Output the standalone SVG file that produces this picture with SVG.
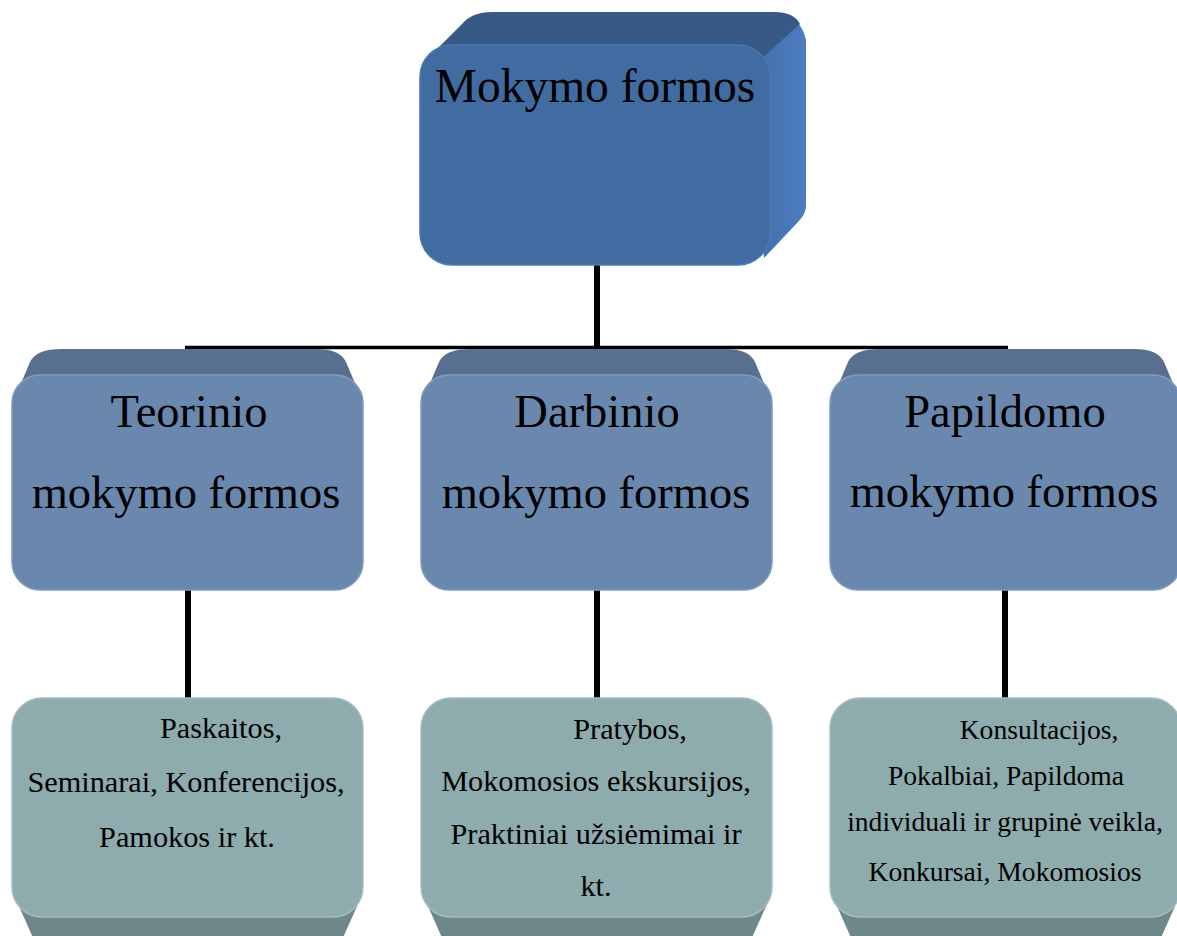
<svg xmlns="http://www.w3.org/2000/svg" width="1177" height="936" viewBox="0 0 1177 936">
<style>
text{font-family:"Liberation Serif","Times New Roman",serif;fill:#000;text-anchor:middle}
.t1{font-size:47.5px}
.t2{font-size:46.5px}
.t3{font-size:30.3px}
.t4{font-size:27.6px}
.conn{stroke:#000;fill:none}
.midTop{fill:#586f8f}
.midFront{fill:#6a88ae;stroke:#7f9cc0;stroke-width:1.5}
.botBottom{fill:#6e8789}
.botFront{fill:#8eabad;stroke:#a3bec0;stroke-width:1.5}
</style>
<defs>
<linearGradient id="side" x1="0" y1="0" x2="1" y2="0">
<stop offset="0" stop-color="#3f6aa3"/>
<stop offset="1" stop-color="#4c7dc0"/>
</linearGradient>
</defs>
<rect width="1177" height="936" fill="#fff"/>
<g id="connectors">
<line class="conn" x1="597" y1="262" x2="597" y2="350" stroke-width="6"/>
<line class="conn" x1="185" y1="347.5" x2="1008" y2="347.5" stroke-width="3.5"/>
<line class="conn" x1="188" y1="588" x2="188" y2="700" stroke-width="6"/>
<line class="conn" x1="597" y1="588" x2="597" y2="700" stroke-width="6"/>
<line class="conn" x1="1005" y1="588" x2="1005" y2="700" stroke-width="6"/>
</g>
<g id="n-root">
<path d="M740 50 L776 14 Q800 14 806 40 L806 206 Q806 214 798 222 L764 258 Z" fill="url(#side)"/>
<path d="M424 62 L462 24 Q472 12 492 12 L774 12 Q794 12 800 24 L762 58 Z" fill="#365a85"/>
<rect x="420" y="45" width="350" height="220" rx="32" fill="#416ca2" stroke="#4a78b0" stroke-width="1.5"/>
<text class="t1" x="595" y="102">Mokymo formos</text>
</g>
<g id="n-teor">
<path d="M14 400 L30 362 Q36 349 62 349 L316 349 Q340 349 346 362 L362 400 Z" class="midTop"/>
<rect x="12" y="375" width="351" height="215" rx="28" class="midFront"/>
<text class="t2" x="189" y="427">Teorinio</text>
<text class="t2" x="186" y="508">mokymo formos</text>
</g>
<g id="n-darb">
<path d="M423 400 L439 362 Q445 349 471 349 L725 349 Q749 349 755 362 L771 400 Z" class="midTop"/>
<rect x="421" y="375" width="351" height="215" rx="28" class="midFront"/>
<text class="t2" x="597" y="427">Darbinio</text>
<text class="t2" x="596" y="508">mokymo formos</text>
</g>
<g id="n-papild">
<path d="M832 400 L848 362 Q854 349 880 349 L1134 349 Q1158 349 1164 362 L1180 400 Z" class="midTop"/>
<rect x="830" y="375" width="351" height="215" rx="28" class="midFront"/>
<text class="t2" x="1005" y="427">Papildomo</text>
<text class="t2" x="1004" y="507">mokymo formos</text>
</g>
<g id="n-teor-list">
<path d="M14 895 L34 940 L342 940 L362 895 Z" class="botBottom"/>
<rect x="12" y="698" width="351" height="219" rx="30" class="botFront"/>
<text class="t3" x="221" y="738">Paskaitos,</text>
<text class="t3" x="186" y="792">Seminarai, Konferencijos,</text>
<text class="t3" x="187" y="847">Pamokos ir kt.</text>
</g>
<g id="n-darb-list">
<path d="M423 895 L443 940 L751 940 L771 895 Z" class="botBottom"/>
<rect x="421" y="698" width="351" height="219" rx="30" class="botFront"/>
<text class="t3" x="630" y="739">Pratybos,</text>
<text class="t3" x="596" y="791">Mokomosios ekskursijos,</text>
<text class="t3" x="596" y="844">Praktiniai užsiėmimai ir</text>
<text class="t3" x="596" y="896">kt.</text>
</g>
<g id="n-papild-list">
<path d="M832 895 L852 940 L1160 940 L1180 895 Z" class="botBottom"/>
<rect x="830" y="698" width="351" height="219" rx="30" class="botFront"/>
<text class="t4" x="1039" y="739">Konsultacijos,</text>
<text class="t4" x="1006" y="785">Pokalbiai, Papildoma</text>
<text class="t4" x="1005" y="831">individuali ir grupinė veikla,</text>
<text class="t4" x="1005" y="881">Konkursai, Mokomosios</text>
</g>
</svg>
